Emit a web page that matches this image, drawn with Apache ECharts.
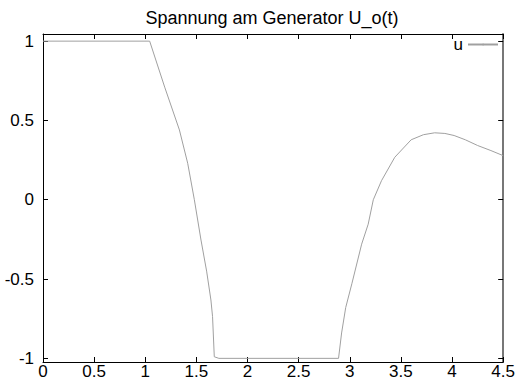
<!DOCTYPE html>
<html>
<head>
<meta charset="utf-8">
<script src="https://cdn.jsdelivr.net/npm/echarts@6/dist/echarts.min.js"></script>
<style>
  html, body { margin: 0; padding: 0; background: #fff; }
  #chart { width: 518px; height: 383px; }
</style>
</head>
<body>
<div id="chart"></div>
<script>
// time axis
const tValues = [0, 1.043, 1.19, 1.334, 1.415, 1.48, 1.545, 1.6, 1.642, 1.658, 1.675, 1.72,
  2.89, 2.92, 2.96, 3.02, 3.116, 3.18, 3.23, 3.31, 3.44, 3.6, 3.72, 3.83, 3.93, 4.02, 4.13, 4.25, 4.38, 4.5];
// voltage u
const uValues = [1, 1, 0.71, 0.44, 0.23, 0.0, -0.254, -0.45, -0.632, -0.737, -0.99, -1.0,
  -1.0, -0.84, -0.68, -0.53, -0.28, -0.154, 0.0, 0.12, 0.268, 0.378, 0.41, 0.422, 0.418, 0.405, 0.378, 0.342, 0.31, 0.278];
const yTicks = [-1, -0.5, 0, 0.5, 1];

const font = 'Liberation Sans, Arial, sans-serif';
const lineColor = '#a0a0a0';
const chart = echarts.init(document.getElementById('chart'), null, { renderer: 'svg' });

// fresh object each time, echarts doesn't like shared option objects
function ticks(extra) {
  return Object.assign({ show: true, inside: true, length: 5, lineStyle: { color: '#000', width: 1 } }, extra || {});
}

chart.setOption({
  animation: false,
  title: {
    text: 'Spannung am Generator U_o(t)',
    left: 272,
    top: 9,
    padding: 0,
    textAlign: 'center',
    textStyle: { fontFamily: font, fontSize: 18, fontWeight: 'normal', color: '#000' }
  },
  legend: {
    right: 19,
    top: 36,
    padding: 0,
    align: 'right',
    itemWidth: 30,
    itemHeight: 2,
    itemGap: 4,
    textStyle: { fontFamily: font, fontSize: 17, color: '#000' },
    data: ['u']
  },
  grid: { left: 43, right: 13, top: 34, bottom: 21, containLabel: false },
  xAxis: [
    {
      type: 'value', min: 0, max: 4.5, interval: 0.5, position: 'bottom',
      axisLine: { show: true, onZero: false, lineStyle: { color: '#000', width: 1 } },
      axisTick: ticks(),
      axisLabel: { fontFamily: font, fontSize: 17, color: '#000', margin: 1 },
      splitLine: { show: false }
    },
    {
      type: 'value', position: 'top', min: 0, max: 4.5, interval: 0.5,
      axisLine: { show: true, onZero: false, lineStyle: { color: '#000', width: 1 } },
      axisTick: ticks(),
      axisLabel: { show: false },
      splitLine: { show: false }
    }
  ],
  yAxis: [
    {
      type: 'value', min: -1.023, max: 1.045, position: 'left',
      axisLine: { show: true, onZero: false, lineStyle: { color: '#000', width: 1 } },
      axisTick: ticks({ customValues: yTicks }),
      axisLabel: { fontFamily: font, fontSize: 17, color: '#000', margin: 9, customValues: yTicks },
      splitLine: { show: false }
    },
    {
      type: 'value', position: 'right', min: -1.023, max: 1.045,
      axisLine: { show: true, onZero: false, lineStyle: { color: '#777', width: 2 } },
      axisTick: ticks({ customValues: yTicks }),
      axisLabel: { show: false },
      splitLine: { show: false }
    }
  ],
  series: [
    {
      name: 'u',
      type: 'line',
      symbol: 'none',
      lineStyle: { color: lineColor, width: 1 },
      itemStyle: { color: lineColor },
      data: tValues.map((t, i) => [t, uValues[i]])
    }
  ]
});
</script>
</body>
</html>
